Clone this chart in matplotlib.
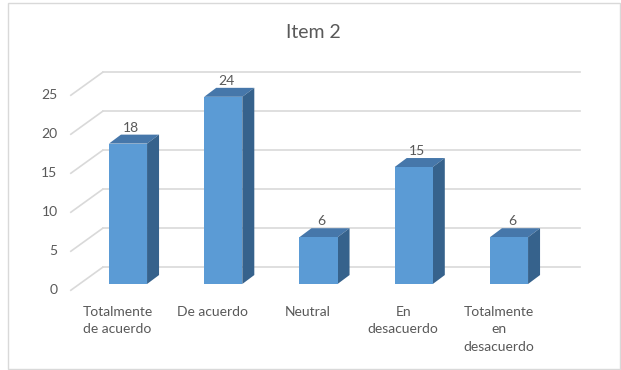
import matplotlib
matplotlib.use('Agg')
import matplotlib.pyplot as plt
from matplotlib.patches import Polygon, Rectangle

# ---- data ----
categories = ["Totalmente\nde acuerdo", "De acuerdo", "Neutral",
              "En\ndesacuerdo", "Totalmente\nen\ndesacuerdo"]
values = [18, 24, 6, 15, 6]
yticks = [0, 5, 10, 15, 20, 25]
title = "Item 2"

# ---- style ----
FONT = ['Lato', 'DejaVu Sans']
TXT = '#595959'
GRID = '#D9D9D9'
FRONT = '#5B9BD5'
TOP = '#4677AA'
SIDE = '#36628C'

W, H = 621, 370
fig = plt.figure(figsize=(W / 100, H / 100), dpi=100)
ax = fig.add_axes([0, 0, 1, 1])
PX, PY = 95.25, 7.8          # pixels per category / per unit value
X0, Y0 = 128, 284            # pixel of first category, value 0 (bar face)
ax.set_xlim(-X0 / PX, (W - X0) / PX)
ax.set_ylim(-(H - Y0) / PY, Y0 / PY)
ax.axis('off')

# depth geometry (in data units)
FDX, FDY = -0.08, -0.80      # front plane offset from bar face
BDX, BDY = 0.255, 2.15       # back wall offset from bar face
LEFT, RIGHT = -0.52, 4.49
BW = 0.40                    # bar width
DDX, DDY = 0.126, 1.15       # bar depth

# gridlines: back wall + left diagonal floor/side lines
for v in yticks:
    ax.plot([LEFT + BDX, RIGHT + BDX], [v + BDY, v + BDY], color=GRID, lw=1.2, zorder=1)
    ax.plot([LEFT + FDX, LEFT + BDX], [v + FDY, v + BDY], color=GRID, lw=1.2, zorder=1)
    ax.text(LEFT + FDX - 0.14, v + FDY, str(v), ha='right', va='center',
            fontsize=10, color=TXT, family=FONT)

# bars
for i, v in enumerate(values):
    x1, x2 = i - BW / 2, i + BW / 2
    ax.add_patch(Polygon([(x1, v), (x2, v), (x2 + DDX, v + DDY), (x1 + DDX, v + DDY)],
                         closed=True, facecolor=TOP, edgecolor='none', zorder=3))
    ax.add_patch(Polygon([(x2, 0), (x2 + DDX, DDY), (x2 + DDX, v + DDY), (x2, v)],
                         closed=True, facecolor=SIDE, edgecolor='none', zorder=3))
    ax.add_patch(Rectangle((x1, 0), BW, v, facecolor=FRONT, edgecolor='none', zorder=4))
    ax.text(i + 0.03, v + 2.05, str(v), ha='center', va='center',
            fontsize=10, color=TXT, family=FONT, zorder=5)

# category labels
for i, c in enumerate(categories):
    ax.text(i + FDX - 0.03, -2.8, c, ha='center', va='top', fontsize=10,
            color=TXT, family=FONT, linespacing=1.55)

fig.text(313 / W, 1 - 33 / H, title, ha='center', va='center',
         fontsize=14, color=TXT, family=FONT)

# chart border
fig.patches.append(Rectangle((8 / W, 1 / H), 612 / W, 366 / H, transform=fig.transFigure,
                             fill=False, edgecolor=GRID, lw=1.0))

fig.savefig('out.png', dpi=100)
